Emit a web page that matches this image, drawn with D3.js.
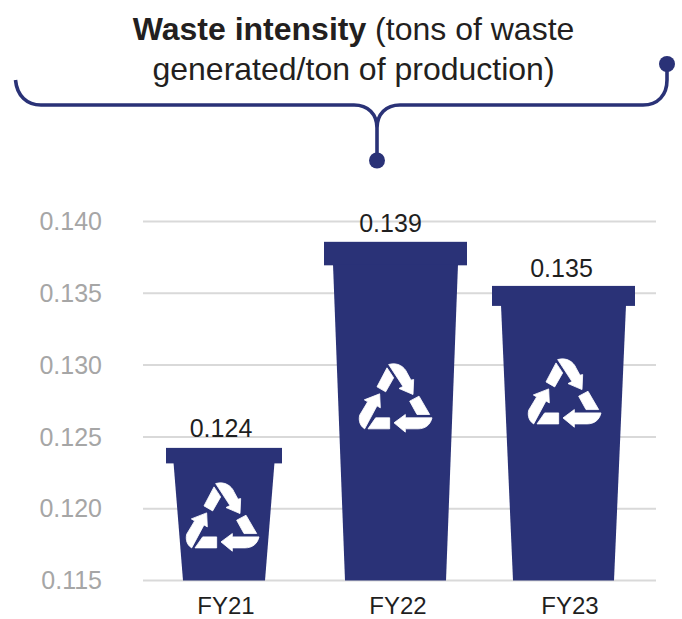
<!DOCTYPE html>
<html>
<head>
<meta charset="utf-8">
<script src="https://cdnjs.cloudflare.com/ajax/libs/d3/7.8.5/d3.min.js"></script>
<style>
html,body{margin:0;padding:0;background:#fff}
svg{display:block;font-family:"Liberation Sans",Arial,sans-serif}
</style>
</head>
<body>
<svg id="chart" width="682" height="619"></svg>
<script>
const categories = ["FY21", "FY22", "FY23"];
const labelValues = [0.124, 0.139, 0.135];
// The bins' drawn heights in the picture differ slightly from their printed labels.
const drawnValues = [0.12420, 0.13855, 0.13548];
const tickValues = [0.115, 0.120, 0.125, 0.130, 0.135, 0.140];

const NAVY = "#2A3277";
const svg = d3.select("#chart");

const y = d3.scaleLinear().domain([0.115, 0.140]).range([580, 221]);
const x = d3.scaleBand().domain(categories).range([140, 656]);

// Y axis with gridlines
const yAxis = svg.append("g")
  .attr("transform", "translate(143,0)")
  .call(d3.axisLeft(y).tickValues(tickValues).tickFormat(d3.format(".3f")).tickSize(-513).tickPadding(41));
yAxis.select(".domain").remove();
yAxis.selectAll(".tick line").attr("stroke", "#d9d9d9").attr("stroke-width", 2);
yAxis.selectAll(".tick text").attr("fill", "#a6a6a6").attr("font-size", 25).attr("dy", "0.35em")
  .attr("font-family", "'Liberation Sans',Arial,sans-serif");

// X axis
const xAxis = svg.append("g")
  .attr("transform", "translate(0,580)")
  .call(d3.axisBottom(x).tickSize(0).tickPadding(17));
xAxis.select(".domain").remove();
xAxis.selectAll(".tick text").attr("fill", "#1f1f1f").attr("font-size", 24)
  .attr("font-family", "'Liberation Sans',Arial,sans-serif");

// Bin shape parameters (styling)
const binShift = [-2, -2.5, -6.5];
const lidW = [116, 143, 143];
const lidH = [15.5, 23.5, 20];
const topW = [101, 125, 125];
const botW = [82, 101, 101];
const labelShift = [-3, -5, -2];
const labelGap = [10.5, 9.5, 9];
const iconX = [186, 359, 528];
const iconDrop = [34, 121, 72];

const iconPieces = [
  // top arrow
  "M197,160 C225,152 245,168 252,185 L264,207 L272,205 L270,250 L228,232 L240,226 Z",
  // top-left block
  "M192,170 L212,200 L188,242 L162,227 Z",
  // left arrow
  "M170,248 L172,290 L162,284 L125,353 C112,345 106,330 110,312 L134,272 L124,266 Z",
  // bottom-left block
  "M158,320 L200,320 L200,353 L135,353 Z",
  // bottom arrow
  "M213,335 L247,310 L247,320 L327,320 C322,342 306,353 285,353 L247,353 L247,363 Z",
  // right block
  "M288,255 L320,310 L282,310 L260,270 Z"
];

const bins = svg.append("g").selectAll("g").data(categories).join("g");
bins.each(function(c, i) {
  const g = d3.select(this);
  const cx = x(c) + x.bandwidth() / 2 + binShift[i];
  const top = y(drawnValues[i]);
  const base = y(0.115);
  const neck = top + lidH[i];
  g.append("rect").attr("x", cx - lidW[i] / 2).attr("y", top)
    .attr("width", lidW[i]).attr("height", lidH[i]).attr("fill", NAVY);
  g.append("path").attr("fill", NAVY).attr("d", d3.line()([
    [cx - topW[i] / 2, neck - 1], [cx + topW[i] / 2, neck - 1],
    [cx + botW[i] / 2, base + 0.5], [cx - botW[i] / 2, base + 0.5]
  ]) + "Z");
  g.append("g")
    .attr("transform", `translate(${iconX[i]},${top + iconDrop[i]}) scale(${1 / 3}) translate(-108,-155)`)
    .selectAll("path").data(iconPieces).join("path").attr("d", d => d)
    .attr("fill", "#fff").attr("stroke", "#fff").attr("stroke-width", 2.5).attr("stroke-linejoin", "round");
  g.append("text").attr("x", cx + labelShift[i]).attr("y", top - labelGap[i])
    .attr("text-anchor", "middle").attr("fill", "#1f1f1f").attr("font-size", 25)
    .text(d3.format(".3f")(labelValues[i]));
});

// Title
const title = svg.append("text").attr("text-anchor", "middle").attr("fill", "#231f20").attr("font-size", 32);
const l1 = title.append("tspan").attr("x", 353.5).attr("y", 40);
l1.append("tspan").attr("font-weight", "bold").text("Waste intensity");
l1.append("tspan").text(" (tons of waste");
title.append("tspan").attr("x", 353.5).attr("y", 79.5).text("generated/ton of production)");

// Brace
const bracePath = d3.path();
bracePath.moveTo(15.5, 80);
bracePath.bezierCurveTo(17, 96, 27, 105, 41, 105);
bracePath.lineTo(354, 105);
bracePath.bezierCurveTo(368, 105, 377, 114, 377, 128);
bracePath.lineTo(377, 160);
bracePath.moveTo(377, 128);
bracePath.bezierCurveTo(377, 114, 386, 105, 400, 105);
bracePath.lineTo(643, 105);
bracePath.bezierCurveTo(658, 105, 667, 95, 667, 80);
bracePath.lineTo(667, 64);
svg.append("path").attr("d", bracePath.toString()).attr("fill", "none")
  .attr("stroke", NAVY).attr("stroke-width", 3.6);
svg.append("circle").attr("cx", 377).attr("cy", 160.5).attr("r", 8).attr("fill", NAVY);
svg.append("circle").attr("cx", 667).attr("cy", 64).attr("r", 8).attr("fill", NAVY);
</script>
</body>
</html>
